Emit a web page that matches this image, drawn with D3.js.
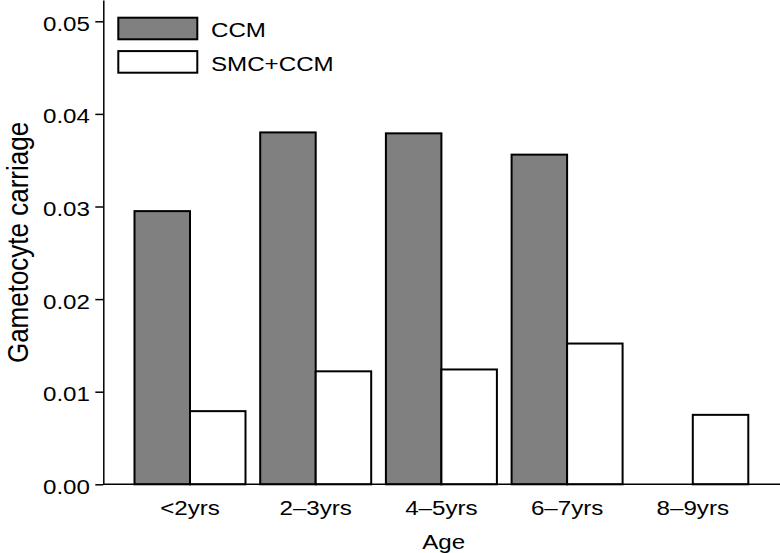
<!DOCTYPE html>
<html>
<head>
<meta charset="utf-8">
<script src="https://cdn.jsdelivr.net/npm/d3@7"></script>
<style>
    body { margin: 0; background: #fff; }
    svg { display: block; }
    text { font-family: "Liberation Sans", Arial, Helvetica, sans-serif; fill: #000; }
</style>
</head>
<body>
<div id="chart"></div>
<script>
const ages = ["<2yrs", "2–3yrs", "4–5yrs", "6–7yrs", "8–9yrs"];
const seriesNames = ["CCM", "SMC+CCM"];
const ccm = [0.0295, 0.0380, 0.0379, 0.0356, null];
const smcCcm = [0.0079, 0.0122, 0.0124, 0.0152, 0.0075];
const yTicks = [0, 0.01, 0.02, 0.03, 0.04, 0.05];
const seriesFill = ["#808080", "#ffffff"];

// text in the original is a bit wide, so stretch horizontally
const stretch = 1.15;

function drawBarChart(container) {
    const width = 780;
    const height = 553;
    const axisX = 103.3;
    const axisY = 484.3;

    const svg = d3.select(container)
        .append("svg")
        .attr("width", width)
        .attr("height", height);

    const dataset = ages.map((age, i) => ({
        age: age,
        values: [ccm[i], smcCcm[i]]
    }));

    const x0 = d3.scaleBand()
        .domain(ages)
        .range([127.15, 755.65])
        .paddingInner(0.117)
        .paddingOuter(0.0585);

    const x1 = d3.scaleBand()
        .domain(seriesNames)
        .range([0, x0.bandwidth()]);

    const y = d3.scaleLinear()
        .domain([0, 0.0523])
        .range([axisY, 0]);

    // bars
    const groups = svg.selectAll("g.group")
        .data(dataset)
        .enter().append("g")
        .attr("class", "group")
        .attr("transform", d => `translate(${x0(d.age)},0)`);

    groups.selectAll("rect")
        .data(d => d.values.map((v, j) => ({ key: seriesNames[j], value: v, idx: j })).filter(e => e.value !== null))
        .enter().append("rect")
        .attr("x", d => x1(d.key))
        .attr("y", d => y(d.value))
        .attr("width", x1.bandwidth())
        .attr("height", d => axisY - y(d.value))
        .attr("fill", d => seriesFill[d.idx])
        .attr("stroke", "#000")
        .attr("stroke-width", 2);

    // y axis
    const yAxis = d3.axisLeft(y)
        .tickValues(yTicks)
        .tickFormat(d3.format(".2f"))
        .tickSizeInner(8)
        .tickSizeOuter(0);

    const gy = svg.append("g")
        .attr("transform", `translate(${axisX},0)`)
        .call(yAxis);
    gy.select(".domain").attr("stroke-width", 1.5);
    gy.selectAll(".tick line").attr("stroke-width", 1.5);
    gy.selectAll(".tick text")
        .attr("font-size", 21)
        .attr("x", -11.6)
        .attr("dy", "9px")
        .attr("transform", `scale(${stretch},1)`);

    // x axis: labels only, line runs to the right edge
    const xAxis = d3.axisBottom(x0)
        .tickSize(0)
        .tickPadding(15.8);

    const gx = svg.append("g")
        .attr("transform", `translate(0,${axisY})`)
        .call(xAxis);
    gx.select(".domain").remove();
    gx.selectAll(".tick text")
        .attr("font-size", 21)
        .attr("transform", `scale(${stretch},1)`);

    svg.append("line")
        .attr("x1", axisX)
        .attr("x2", width)
        .attr("y1", axisY)
        .attr("y2", axisY)
        .attr("stroke", "#000")
        .attr("stroke-width", 1.5);

    // axis titles
    svg.append("text")
        .attr("text-anchor", "middle")
        .attr("font-size", 21)
        .attr("transform", `translate(${(axisX + width) / 2 + 2},549) scale(${stretch},1)`)
        .text("Age");

    svg.append("text")
        .attr("text-anchor", "middle")
        .attr("font-size", 26)
        .attr("transform", `translate(28,242.5) scale(${stretch},1) rotate(-90)`)
        .text("Gametocyte carriage");

    // legend
    const legend = svg.selectAll("g.legend")
        .data(seriesNames)
        .enter().append("g")
        .attr("class", "legend")
        .attr("transform", (d, i) => `translate(118.3,${17.7 + i * 33.4})`);

    legend.append("rect")
        .attr("width", 79)
        .attr("height", 21.6)
        .attr("fill", (d, i) => seriesFill[i])
        .attr("stroke", "#000")
        .attr("stroke-width", 2);

    legend.append("text")
        .attr("font-size", 21)
        .attr("transform", `translate(92.7,19.6) scale(${stretch},1)`)
        .text(d => d);
}

drawBarChart(document.getElementById("chart"));
</script>
</body>
</html>
